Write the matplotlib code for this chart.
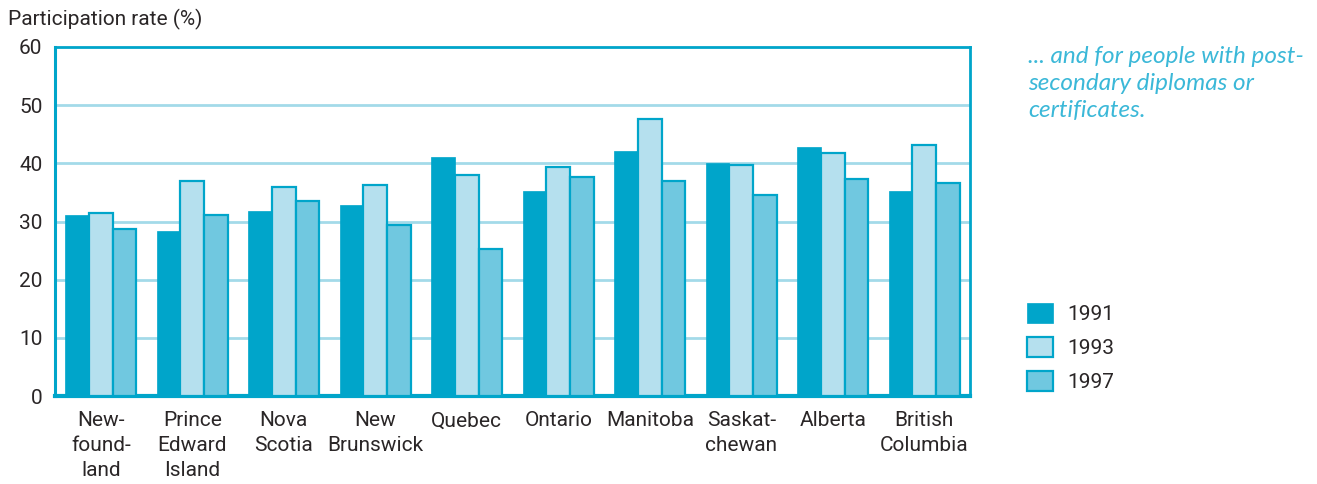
import matplotlib
matplotlib.use("Agg")
import matplotlib.pyplot as plt
import numpy as np
from matplotlib.patches import Patch

provinces = ["New-\nfound-\nland", "Prince\nEdward\nIsland", "Nova\nScotia", "New\nBrunswick",
             "Quebec", "Ontario", "Manitoba", "Saskat-\nchewan", "Alberta", "British\nColumbia"]
years = ["1991", "1993", "1997"]
rate_1991 = [31.2, 28.4, 31.8, 32.8, 41.1, 35.2, 42.1, 40.0, 42.8, 35.2]
rate_1993 = [31.4, 36.9, 35.9, 36.3, 38.0, 39.3, 47.6, 39.7, 41.8, 43.1]
rate_1997 = [28.7, 31.1, 33.5, 29.4, 25.3, 37.6, 36.9, 34.5, 37.3, 36.6]
y_ticks = [0, 10, 20, 30, 40, 50, 60]

DARK = "#00A5CA"
LIGHT = "#B5E0EE"
MID = "#70C8E0"
GRID = "#A3DAE9"
TEXT = "#2A2627"

plt.rcParams["font.family"] = ["Roboto", "DejaVu Sans"]

fig = plt.figure(figsize=(13.17, 4.84), dpi=100)
ax = fig.add_axes([55 / 1317, 1 - 396 / 484, 915 / 1317, 349 / 484])

x = np.arange(len(provinces))
w = 0.26
ax.bar(x - w, rate_1991, w, color=DARK, edgecolor=DARK, linewidth=0.5, zorder=3)
ax.bar(x, rate_1993, w, color=LIGHT, edgecolor=DARK, linewidth=1.6, zorder=3)
ax.bar(x + w, rate_1997, w, color=MID, edgecolor=DARK, linewidth=1.6, zorder=3)

ax.set_xlim(-0.5, len(provinces) - 0.5)
ax.set_ylim(0, 60)
ax.set_yticks(y_ticks)
ax.set_yticklabels([str(v) for v in y_ticks], fontsize=15, color=TEXT)
ax.set_xticks(x)
ax.set_xticklabels(provinces, fontsize=15, color=TEXT, linespacing=1.4)
ax.tick_params(axis="both", length=0)
ax.tick_params(axis="y", pad=9)
ax.tick_params(axis="x", pad=11)

for v in y_ticks[1:-1]:
    ax.axhline(v, color=GRID, linewidth=2, zorder=1)

for side, lw in (("left", 2.2), ("top", 2.0), ("right", 2.0), ("bottom", 3.0)):
    ax.spines[side].set_color(DARK)
    ax.spines[side].set_linewidth(lw)

fig.text(8 / 1317, 1 - 19 / 484, "Participation rate (%)", fontsize=15, color=TEXT,
         va="center", ha="left")

fig.text(1028 / 1317, 1 - 46 / 484,
         "... and for people with post-\nsecondary diplomas or\ncertificates.",
         fontsize=17.5, color="#3BB8D8", style="italic", family=["Lato", "DejaVu Sans"],
         va="top", ha="left", linespacing=1.36)

handles = [Patch(facecolor=DARK, edgecolor=DARK, linewidth=0.5),
           Patch(facecolor=LIGHT, edgecolor=DARK, linewidth=1.6),
           Patch(facecolor=MID, edgecolor=DARK, linewidth=1.6)]
fig.legend(handles, years, loc="upper left", bbox_to_anchor=(1027 / 1317, 1 - 303 / 484),
           frameon=False, fontsize=15, handlelength=1.25, handleheight=1.1,
           handletextpad=0.7, labelspacing=0.62, borderpad=0, borderaxespad=0,
           labelcolor=TEXT)

fig.savefig("out.png", dpi=100, facecolor="white")
